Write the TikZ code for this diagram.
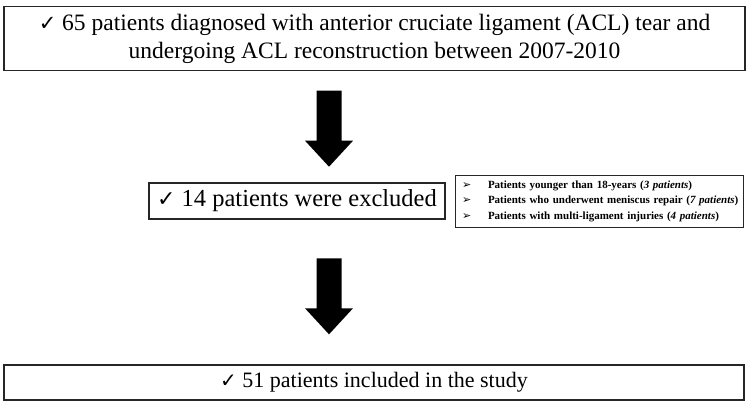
\documentclass[tikz,border=0pt]{standalone}
\usepackage{fontspec}
\setmainfont{Liberation Serif}
\newfontfamily\symfont{DejaVu Sans}
\newcommand{\chk}[1]{{\symfont\bfseries\fontsize{#1}{#1}\selectfont ✓}}
\newcommand{\pointer}{\hspace*{7pt}\makebox[26pt][l]{\symfont\bfseries\fontsize{11}{11}\selectfont ➢}}
\begin{document}
\begin{tikzpicture}[x=1pt,y=-1pt,
  box/.style={draw=black!85,line width=1.2pt,fill=white,inner sep=0pt,align=center},
  bigarrow/.pic={\fill[black] (-12.5,0) -- (12.5,0) -- (12.5,50) -- (24,50) -- (0,76) -- (-24,50) -- (-12.5,50) -- cycle;}]
\useasboundingbox (0,0) rectangle (750,405);

% patient flow boxes
\node[box, minimum width=741pt, minimum height=64pt,
      font=\fontsize{23.5}{28}\selectfont] (intake) at (374.5,38.5)
  {\chk{21} 65 patients diagnosed with anterior cruciate ligament (ACL) tear and\\
   undergoing ACL reconstruction between 2007-2010};

\node[box, minimum width=296pt, minimum height=36pt,
      font=\fontsize{24.5}{28}\selectfont] (excl) at (297,201)
  {\chk{22} 14 patients were excluded};

\node[box, line width=1pt, text width=288pt, inner xsep=0pt, minimum height=52pt,
      align=left, font=\bfseries\fontsize{11}{15.5}\selectfont] (reasons) at (599,201)
  {\hyphenpenalty=10000
   \pointer Patients younger than 18-years (\textit{3 patients})\\
   \pointer Patients who underwent meniscus repair (\textit{7 patients})\\
   \pointer Patients with multi-ligament injuries (\textit{4 patients})};

\node[box, minimum width=740pt, minimum height=35pt,
      font=\fontsize{22}{26}\selectfont] (incl) at (374,382.5)
  {\chk{20} 51 patients included in the study};

% block arrows between the stages
\coordinate (arrowA) at (329,90.7);
\coordinate (arrowB) at (329,258.3);
\pic at (arrowA) {bigarrow};
\pic at (arrowB) {bigarrow};
\end{tikzpicture}
\end{document}
